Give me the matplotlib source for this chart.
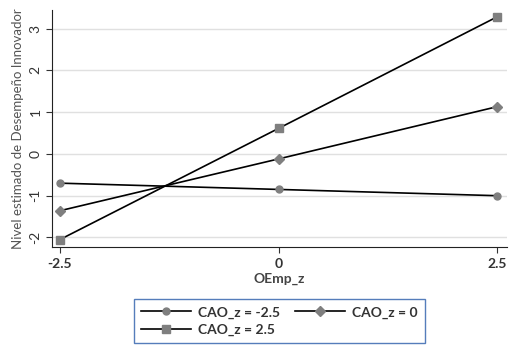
import numpy as np
import matplotlib.pyplot as plt

plt.rcParams['font.family'] = ['Lato', 'DejaVu Sans']

# Data
oemp = [-2.5, 0, 2.5]
cao_low = [-0.70, -0.85, -1.00]
cao_mid = [-1.36, -0.12, 1.13]
cao_high = [-2.05, 0.61, 3.28]
labels = ['CAO_z = -2.5', 'CAO_z = 0', 'CAO_z = 2.5']

fig = plt.figure(figsize=(5.15, 3.5), dpi=100)
ax = fig.add_axes([0.101, 0.294, 0.883, 0.677])

mk = dict(color='black', lw=1.2, markerfacecolor='#7f7f7f', markeredgecolor='#7f7f7f')
l1, = ax.plot(oemp, cao_low, marker='o', ms=5, label=labels[0], **mk)
l2, = ax.plot(oemp, cao_mid, marker='D', ms=5, label=labels[1], **mk)
l3, = ax.plot(oemp, cao_high, marker='s', ms=6, label=labels[2], **mk)

ax.set_xlim(-2.59, 2.61)
ax.set_ylim(-2.23, 3.44)
ax.set_xticks(oemp)
ax.set_xticklabels(['-2.5', '0', '2.5'])
ax.set_yticks([-2, -1, 0, 1, 2, 3])
ax.set_yticklabels(['-2', '-1', '0', '1', '2', '3'], rotation=90, va='center')
ax.grid(axis='y', color='#e0e0e0', lw=1)
ax.set_axisbelow(True)
for s in ['top', 'right']:
    ax.spines[s].set_visible(False)
for s in ['left', 'bottom']:
    ax.spines[s].set_color('#222222')
ax.tick_params(colors='#333333', labelsize=10, length=4)
for t in ax.get_xticklabels():
    t.set_fontweight('bold')
ax.set_xlabel('OEmp_z', fontsize=10, color='#444444', fontweight='bold', labelpad=2)
ax.set_ylabel('Nivel estimado de Desempeño Innovador', fontsize=9.5, color='#555555', labelpad=4)

# column-major fill -> reorder so rows read: -2.5, 0 / 2.5
leg = fig.legend([l1, l3, l2], [labels[0], labels[2], labels[1]],
                 loc='center', bbox_to_anchor=(0.543, 0.083), ncol=2,
                 frameon=True, fancybox=False, handlelength=3.6, borderpad=0.5,
                 labelspacing=0.35, columnspacing=1.1, handletextpad=0.5,
                 prop={'weight': 'bold', 'size': 10})
leg.get_frame().set_edgecolor('#2a5caa')
leg.get_frame().set_linewidth(1.0)
for t in leg.get_texts():
    t.set_color('#333333')

fig.savefig('out.png', dpi=100)
